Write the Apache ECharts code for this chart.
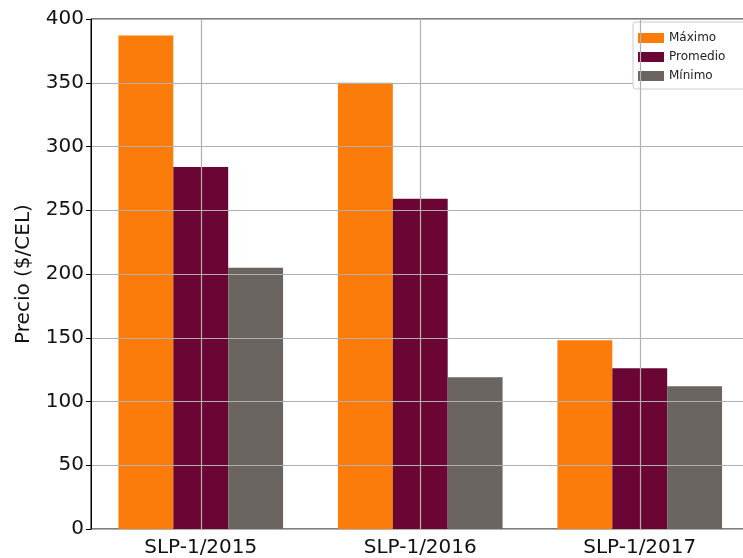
<!DOCTYPE html>
<html>
<head>
<meta charset="utf-8">
<script src="https://cdn.jsdelivr.net/npm/echarts@6/dist/echarts.min.js"></script>
<style>
  html, body { margin: 0; padding: 0; background: #fff; overflow: hidden; }
  /* canvas is a little wider than the window: the plot's right edge falls off-screen */
  #chart { width: 760px; height: 558px; }
</style>
</head>
<body>
<div id="chart"></div>
<script>
// Price ranges per auction (SLP-1 editions)
const categories = ['SLP-1/2015', 'SLP-1/2016', 'SLP-1/2017'];
const maximo = [387, 350, 148];
const promedio = [284, 259, 126];
const minimo = [205, 119, 112];
const yTicks = { min: 0, max: 400, interval: 50 };

const FONT = 'DejaVu Sans';
const TEXT = '#111';
const chart = echarts.init(document.getElementById('chart'));

const barBase = {
  type: 'bar',
  barWidth: '25%',
  barGap: '0%',
  animation: false
};

chart.setOption({
  backgroundColor: '#fff',
  textStyle: { fontFamily: FONT },
  grid: {
    left: 91, top: 19, width: 658.5, height: 510,
    show: true, borderColor: '#000', borderWidth: 1, backgroundColor: 'transparent'
  },
  legend: {
    orient: 'vertical',
    left: 633, top: 22,
    padding: [10, 30, 7, 5],
    itemWidth: 26, itemHeight: 10, itemGap: 7,
    icon: 'rect',
    backgroundColor: '#fff',
    borderColor: '#cccccc', borderWidth: 1, borderRadius: 3,
    textStyle: { fontFamily: FONT, fontSize: 12, color: '#222' },
    data: ['Máximo', 'Promedio', 'Mínimo']
  },
  xAxis: {
    type: 'category',
    data: categories,
    axisLine: { lineStyle: { color: '#000', width: 1 } },
    axisTick: { alignWithLabel: true, length: 5, lineStyle: { color: '#000' } },
    axisLabel: { fontFamily: FONT, fontSize: 20, color: TEXT, margin: 9 },
    splitLine: { show: false }
  },
  yAxis: {
    type: 'value',
    min: yTicks.min, max: yTicks.max, interval: yTicks.interval,
    z: 3,
    name: 'Precio ($/CEL)',
    nameLocation: 'middle',
    nameGap: 57,
    nameTextStyle: { fontFamily: FONT, fontSize: 20, color: TEXT },
    axisLine: { show: true, lineStyle: { color: '#000', width: 1 } },
    axisTick: { show: true, length: 5, lineStyle: { color: '#000' } },
    axisLabel: { fontFamily: FONT, fontSize: 20, color: TEXT, margin: 7 },
    splitLine: { show: true, lineStyle: { color: '#b0b0b0', width: 1.2 } }
  },
  series: [
    Object.assign({}, barBase, { name: 'Máximo', data: maximo, itemStyle: { color: '#fb7c0b' } }),
    Object.assign({}, barBase, {
      name: 'Promedio', data: promedio, itemStyle: { color: '#6b0534' },
      // vertical grid lines at the category centres, drawn over the bars
      markLine: {
        silent: true,
        symbol: 'none',
        z: 5,
        animation: false,
        label: { show: false },
        lineStyle: { color: '#b0b0b0', width: 1.2, type: 'solid' },
        data: categories.map(c => ({ xAxis: c }))
      }
    }),
    Object.assign({}, barBase, { name: 'Mínimo', data: minimo, itemStyle: { color: '#6a6561' } })
  ]
});
</script>
</body>
</html>
